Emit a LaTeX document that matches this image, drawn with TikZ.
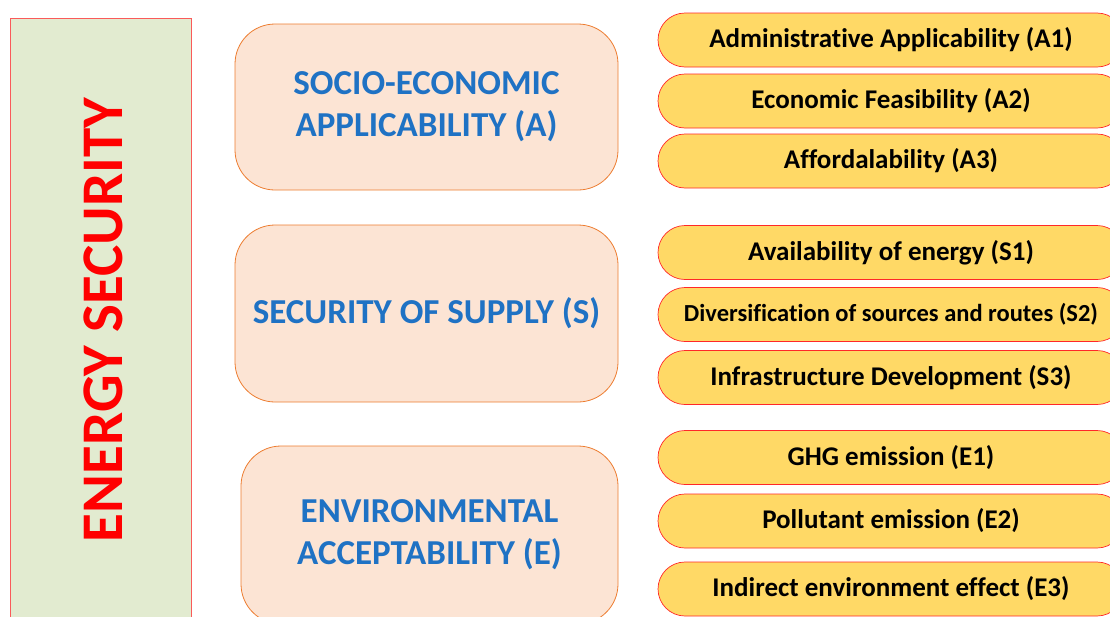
\documentclass[tikz,border=0pt]{standalone}
\usepackage{fontspec}
\setmainfont{Carlito}[Ligatures=NoCommon]
\usepackage{xcolor}
\definecolor{framegreen}{RGB}{226,235,208}
\definecolor{frameline}{RGB}{250,90,90}
\definecolor{titlered}{RGB}{255,0,0}
\definecolor{pillarfill}{RGB}{252,228,212}
\definecolor{pillarline}{RGB}{237,125,49}
\definecolor{pillartext}{RGB}{31,114,196}
\definecolor{itemfill}{RGB}{255,217,102}
\definecolor{itemline}{RGB}{255,40,40}

\begin{document}
\begin{tikzpicture}[x=1pt, y=-1pt,
    pillar/.style={draw=pillarline, fill=pillarfill, line width=0.8pt, rounded corners=40pt,
        inner sep=0pt, align=center, text=pillartext, font=\bfseries\fontsize{35}{42}\selectfont},
    indicator/.style={draw=itemline, fill=itemfill, line width=0.7pt, rounded corners=27pt,
        minimum width=466pt, minimum height=54pt, inner sep=0pt, font=\bfseries\fontsize{27}{30}\selectfont}]
    \useasboundingbox (0,0) rectangle (1110,616);
    \clip (0,0) rectangle (1110,616);

    % left frame with the vertical title
    \node[draw=frameline, fill=framegreen, line width=0.8pt, minimum width=181pt, minimum height=622pt, inner sep=0pt]
        (frame) at (100.5,329) {};
    \node[rotate=90, text=titlered, font=\bfseries\fontsize{59}{62}\selectfont, inner sep=0pt]
        (energy) at (103.5,320) {ENERGY SECURITY};

    % the three pillars
    \node[pillar, minimum width=383pt, minimum height=166pt] (catA) at (426.5,107) {SOCIO-ECONOMIC\\APPLICABILITY (A)};
    \node[pillar, minimum width=383pt, minimum height=177pt] (catS) at (426.5,313.5) {SECURITY OF SUPPLY (S)};
    \node[pillar, minimum width=377pt, minimum height=178pt] (catE) at (429.5,535) {ENVIRONMENTAL\\ACCEPTABILITY (E)};

    % indicators of each pillar
    \node[indicator] (a1) at (891,40) {Administrative Applicability (A1)};
    \node[indicator] (a2) at (891,101) {Economic Feasibility (A2)};
    \node[indicator] (a3) at (891,161) {Affordalability (A3)};

    \node[indicator] (s1) at (891,252.5) {Availability of energy (S1)};
    \node[indicator, font=\bfseries\fontsize{24.5}{28}\selectfont] (s2) at (891,314.5) {Diversification of sources and routes (S2)};
    \node[indicator] (s3) at (891,377.5) {Infrastructure Development (S3)};

    \node[indicator] (e1) at (891,457.5) {GHG emission (E1)};
    \node[indicator] (e2) at (891,521) {Pollutant emission (E2)};
    \node[indicator] (e3) at (891,589) {Indirect environment effect (E3)};
\end{tikzpicture}
\end{document}
